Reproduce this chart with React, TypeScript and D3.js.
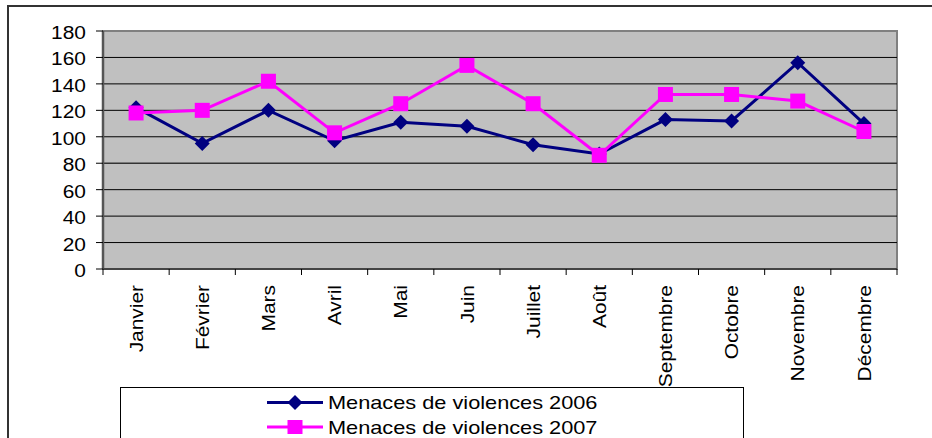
import React from "react";
import * as d3 from "d3";

const months = ["Janvier", "Février", "Mars", "Avril", "Mai", "Juin", "Juillet", "Août", "Septembre", "Octobre", "Novembre", "Décembre"];
const values2006 = [122, 95, 120, 97, 111, 108, 94, 87, 113, 112, 156, 110];
const values2007 = [118, 120, 142, 103, 125, 154, 125, 86, 132, 132, 127, 104];
const yTicks = [0, 20, 40, 60, 80, 100, 120, 140, 160, 180];
const seriesNames = ["Menaces de violences 2006", "Menaces de violences 2007"];

const W = 932;
const H = 438;
const plot = { left: 103, top: 31, right: 897, bottom: 269 };
const FONT = "'Liberation Sans', Arial, sans-serif";
const FS = 19;
const SX = 1.1;
const SX_LEGEND = 1.145;

export default function App() {
  const x = d3.scaleBand<string>().domain(months).range([plot.left, plot.right]);
  const y = d3.scaleLinear().domain([0, 180]).range([plot.bottom, plot.top]);
  const cx = (m: string) => (x(m) as number) + x.bandwidth() / 2;
  const line = d3
    .line<number>()
    .x((_, i) => cx(months[i]))
    .y((d) => y(d));

  const diamond = (px: number, py: number, r = 7.5) =>
    `M${px},${py - r}L${px + r},${py}L${px},${py + r}L${px - r},${py}Z`;

  const legendY = [402.5, 427];

  return (
    <svg
      width={W}
      height={H}
      style={{ position: "absolute", left: 0, top: 0, display: "block" }}
      fontFamily={FONT}
    >
      <rect x={0} y={0} width={W} height={H} fill="#fff" />
      {/* outer frame */}
      <rect x={8} y={6} width={W + 20} height={H + 20} fill="none" stroke="#333" strokeWidth={2} />

      {/* plot area */}
      <rect
        x={plot.left}
        y={plot.top}
        width={plot.right - plot.left}
        height={plot.bottom - plot.top}
        fill="#C0C0C0"
        stroke="#808080"
        strokeWidth={2}
      />
      {yTicks
        .filter((t) => t !== 0 && t !== 180)
        .map((t) => (
          <line key={t} x1={plot.left} x2={plot.right} y1={y(t)} y2={y(t)} stroke={t === 80 ? "#333" : "#000"} strokeWidth={t === 80 ? 1.6 : 1} />
        ))}
      {/* axes */}
      <line x1={plot.left} x2={plot.left} y1={plot.top} y2={plot.bottom} stroke="#555" strokeWidth={2.5} />
      <line x1={plot.left} x2={plot.right} y1={plot.bottom} y2={plot.bottom} stroke="#444" strokeWidth={2} />

      {/* y ticks & labels */}
      {yTicks.map((t) => (
        <g key={t}>
          <line x1={plot.left - 7} x2={plot.left} y1={y(t)} y2={y(t)} stroke="#000" strokeWidth={1} />
          <g transform={`translate(86,${y(t)}) scale(${SX},1)`}>
            <text textAnchor="end" dy="0.42em" fontSize={FS} fill="#000">
              {t}
            </text>
          </g>
        </g>
      ))}

      {/* x ticks */}
      {months.map((m) => (
        <line key={m} x1={x(m) as number} x2={x(m) as number} y1={plot.bottom} y2={plot.bottom + 6} stroke="#000" strokeWidth={1} />
      ))}
      <line x1={plot.right} x2={plot.right} y1={plot.bottom} y2={plot.bottom + 6} stroke="#000" strokeWidth={1} />

      {/* x labels */}
      {months.map((m) => (
        <g key={m} transform={`translate(${cx(m)},285) rotate(-90) scale(${SX},1)`}>
          <text textAnchor="end" dy="0.35em" fontSize={FS} fill="#000">
            {m}
          </text>
        </g>
      ))}

      {/* series 2006 */}
      <path d={line(values2006) as string} fill="none" stroke="#000080" strokeWidth={3} />
      {values2006.map((v, i) => (
        <path key={i} d={diamond(cx(months[i]), y(v))} fill="#000080" />
      ))}
      {/* series 2007 */}
      <path d={line(values2007) as string} fill="none" stroke="#FF00FF" strokeWidth={3} />
      {values2007.map((v, i) => (
        <rect key={i} x={cx(months[i]) - 7.5} y={y(v) - 7.5} width={15} height={15} fill="#FF00FF" />
      ))}

      {/* legend */}
      <rect x={120.5} y={387.5} width={623} height={80} fill="#fff" stroke="#000" strokeWidth={1} />
      {seriesNames.map((name, i) => {
        const ly = legendY[i];
        const color = i === 0 ? "#000080" : "#FF00FF";
        return (
          <g key={name}>
            <line x1={267} x2={323} y1={ly} y2={ly} stroke={color} strokeWidth={3} />
            {i === 0 ? (
              <path d={diamond(295, ly)} fill={color} />
            ) : (
              <rect x={295 - 7.5} y={ly - 7} width={15} height={14} fill={color} />
            )}
            <g transform={`translate(328,${ly}) scale(${SX_LEGEND},1)`}>
              <text dy="0.36em" fontSize={FS} fill="#000">
                {name}
              </text>
            </g>
          </g>
        );
      })}
    </svg>
  );
}
